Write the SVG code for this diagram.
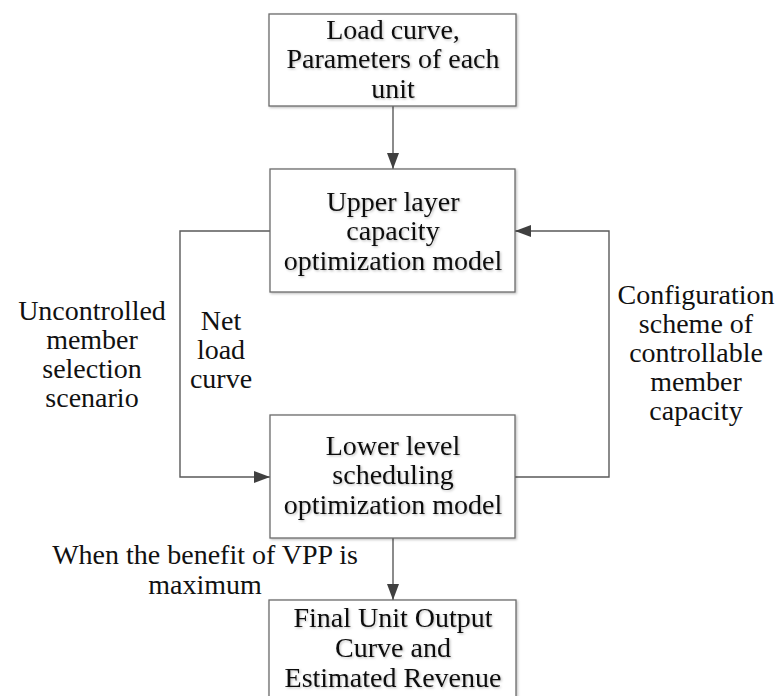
<svg xmlns="http://www.w3.org/2000/svg" width="781" height="696" viewBox="0 0 781 696">
  <defs>
    <marker id="arrow" viewBox="0 0 16 12" refX="16" refY="6" markerWidth="16" markerHeight="12" markerUnits="userSpaceOnUse" orient="auto">
      <path d="M0,0 L16,6 L0,12 Z" fill="#404040"/>
    </marker>
    <filter id="soft" x="-5%" y="-5%" width="115%" height="115%">
      <feDropShadow dx="1.2" dy="1.2" stdDeviation="0.9" flood-color="#000" flood-opacity="0.25"/>
    </filter>
  </defs>
  <style>
    .box { fill: #ffffff; stroke: #6b6b6b; stroke-width: 1.3; }
    .link { fill: none; stroke: #5a5a5a; stroke-width: 1.4; }
    text { font-family: "Liberation Serif", "Times New Roman", serif; font-size: 28px; fill: #111; text-anchor: middle; }
    .t { filter: url(#soft); }
  </style>
  <rect width="781" height="696" fill="#ffffff"/>

  <g id="connectors">
    <line class="link" x1="393" y1="106" x2="393" y2="169" marker-end="url(#arrow)"/>
    <polyline class="link" points="270,231 180,231 180,477 270,477" marker-end="url(#arrow)"/>
    <polyline class="link" points="515,477 609,477 609,231 515,231" marker-end="url(#arrow)"/>
    <line class="link" x1="393" y1="538" x2="393" y2="600" marker-end="url(#arrow)"/>
  </g>

  <g id="input">
    <rect class="box" x="269" y="14" width="247" height="92" filter="url(#soft)"/>
    <text class="t" x="393" y="39">Load curve,</text>
    <text class="t" x="393" y="68">Parameters of each</text>
    <text class="t" x="393" y="98">unit</text>
  </g>

  <g id="upper-model">
    <rect class="box" x="270" y="169" width="245" height="123" filter="url(#soft)"/>
    <text class="t" x="393" y="211">Upper layer</text>
    <text class="t" x="393" y="240">capacity</text>
    <text class="t" x="393" y="270">optimization model</text>
  </g>

  <g id="lower-model">
    <rect class="box" x="270" y="415" width="245" height="123" filter="url(#soft)"/>
    <text class="t" x="393" y="455">Lower level</text>
    <text class="t" x="393" y="484">scheduling</text>
    <text class="t" x="393" y="514">optimization model</text>
  </g>

  <g id="result">
    <rect class="box" x="269" y="600" width="247" height="110" filter="url(#soft)"/>
    <text class="t" x="393" y="627">Final Unit Output</text>
    <text class="t" x="393" y="657">Curve and</text>
    <text class="t" x="393" y="687">Estimated Revenue</text>
  </g>

  <g id="labels">
    <text x="92" y="320">Uncontrolled</text>
    <text x="92" y="349">member</text>
    <text x="92" y="378">selection</text>
    <text x="92" y="407">scenario</text>

    <text x="221" y="330">Net</text>
    <text x="221" y="359">load</text>
    <text x="221" y="388">curve</text>

    <text x="696" y="304">Configuration</text>
    <text x="696" y="333">scheme of</text>
    <text x="696" y="362">controllable</text>
    <text x="696" y="391">member</text>
    <text x="696" y="420">capacity</text>

    <text x="205" y="564">When the benefit of VPP is</text>
    <text x="205" y="594">maximum</text>
  </g>
</svg>
